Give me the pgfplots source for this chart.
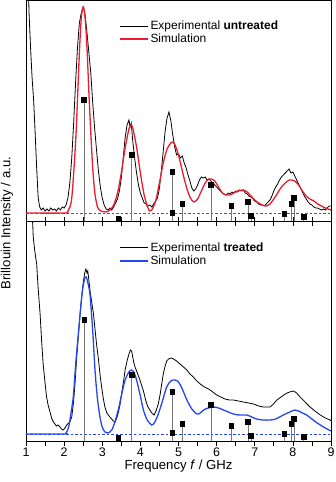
\documentclass[border=0pt]{standalone}
\usepackage{fontspec}
\setmainfont{Liberation Sans}
\usepackage{pgfplots}
\pgfplotsset{compat=1.18}
\definecolor{simred}{RGB}{236,28,46}
\definecolor{simblue}{RGB}{35,70,240}
\definecolor{stemgray}{RGB}{120,120,120}
\begin{document}
\begin{tikzpicture}
\useasboundingbox (-26bp,-260.5bp) rectangle (310bp,221.5bp);
\pgfplotsset{
 every axis/.append style={
  scale only axis, width=305bp, xmin=1, xmax=9,
  ymin=0, ytick=\empty,
  xtick={1,...,9}, minor x tick num=1,
  axis line style={line width=0.8bp},
  every tick/.style={black, line width=0.7bp},
  tick label style={font=\fontsize{12.5}{15}\selectfont},
  label style={font=\fontsize{13.2}{15}\selectfont},
  /pgf/number format/assume math mode=true,
  legend cell align=left,
  legend style={draw=none, fill=none, font=\fontsize{12}{14.4}\selectfont, inner sep=0pt, row sep=-1bp},
  legend image code/.code={\draw[#1] (0bp,0bp) -- (28bp,0bp);},
 }
}
% ---------------- top panel: untreated ----------------
\begin{axis}[at={(0,0)}, anchor=south west, height=221bp, ymax=221,
  xticklabels={}, xtick pos=left, tick align=center,
  major tick length=9bp, minor tick length=9bp,
  legend style={at={(0.305,0.855)}, anchor=west}]
\addplot[simred, line width=0.8bp, dash pattern=on 2.5bp off 2bp, forget plot] coordinates {(1,8.5) (9,8.5)};
\addplot[ycomb, draw=stemgray, line width=0.6bp, mark=square*, mark size=2.3bp,
  mark options={draw=black, fill=black, solid}, forget plot] coordinates {
(2.52,121.5) (3.42,2.5) (3.77,66.5) (4.84,49.5) (4.84,8.5) (5.10,17.5) (5.85,36.5)
(6.39,15.5) (6.82,19.5) (6.90,5.5) (7.78,7.5) (7.96,17.5) (8.03,23.5) (8.28,4.5)};
\addplot[black, line width=0.8bp] coordinates {
(1.04,268.5) (1.08,208.5) (1.12,173.5) (1.16,143.5) (1.2,121.5) (1.24,88.5) (1.28,53.5) (1.32,23.5)
(1.36,14.5) (1.4,11.5) (1.45,13.5) (1.5,10.5) (1.55,12.5) (1.6,10.5) (1.65,13.5) (1.7,11.5)
(1.75,12.5) (1.8,10.5) (1.85,13.5) (1.9,11.5) (1.95,14.5) (2.0,13.5) (2.05,16.5) (2.1,23.5)
(2.15,38.5) (2.2,63.5) (2.25,98.5) (2.3,138.5) (2.35,173.5) (2.4,198.5) (2.45,208.5) (2.5,214.5)
(2.53,211.5) (2.56,203.5) (2.6,188.5) (2.65,168.5) (2.7,148.5) (2.75,118.5) (2.8,93.5) (2.85,71.5)
(2.9,50.5) (2.95,34.5) (3.0,23.5) (3.05,16.5) (3.1,12.5) (3.15,11.5) (3.2,13.5) (3.25,11.5)
(3.3,14.5) (3.35,18.5) (3.4,22.5) (3.45,30.5) (3.5,43.5) (3.55,63.5) (3.6,83.5) (3.65,96.5)
(3.7,101.5) (3.73,94.5) (3.76,98.5) (3.8,80.5) (3.85,63.5) (3.9,48.5) (3.95,36.5) (4.0,28.5)
(4.05,23.5) (4.1,18.5) (4.15,17.5) (4.2,15.5) (4.25,16.5) (4.3,14.5) (4.35,17.5) (4.4,20.5)
(4.45,23.5) (4.5,33.5) (4.55,50.5) (4.6,70.5) (4.65,90.5) (4.7,103.5) (4.75,109.5) (4.8,100.5)
(4.85,86.5) (4.9,74.5) (4.95,66.5) (5.0,67.5) (5.05,63.5) (5.1,65.5) (5.15,58.5) (5.2,53.5)
(5.25,46.5) (5.3,40.5) (5.35,33.5) (5.4,30.5) (5.45,32.5) (5.5,36.5) (5.55,41.5) (5.6,44.5)
(5.65,43.5) (5.7,44.5) (5.75,41.5) (5.8,42.5) (5.85,40.5) (5.9,38.5) (5.95,36.5) (6.0,34.5)
(6.05,32.5) (6.1,30.5) (6.15,28.5) (6.2,27.5) (6.25,26.5) (6.3,28.5) (6.35,27.5) (6.4,29.5)
(6.45,28.5) (6.5,30.5) (6.55,29.5) (6.6,31.5) (6.65,30.5) (6.7,31.5) (6.75,28.5) (6.8,27.5)
(6.85,25.5) (6.9,24.5) (6.95,22.5) (7.0,20.5) (7.05,19.5) (7.1,17.5) (7.15,16.5) (7.2,16.5)
(7.25,15.5) (7.3,17.5) (7.35,19.5) (7.4,21.5) (7.45,25.5) (7.5,30.5) (7.55,34.5) (7.6,37.5)
(7.65,41.5) (7.7,44.5) (7.75,46.5) (7.8,48.5) (7.85,50.5) (7.9,52.5) (7.95,48.5) (8.0,49.5)
(8.05,45.5) (8.1,41.5) (8.15,37.5) (8.2,33.5) (8.25,29.5) (8.3,25.5) (8.35,22.5) (8.4,19.5)
(8.45,17.5) (8.5,16.5) (8.55,14.5) (8.6,13.5) (8.65,13.5) (8.7,12.5) (8.75,11.5) (8.8,12.5)
(8.85,11.5) (8.9,13.5) (8.95,15.5) (9.0,15.5)};
\addlegendentry{Experimental \textbf{untreated}}
\addplot[simred, line width=1.3bp, smooth, tension=0.5] coordinates {
(1.0,8.5) (2.0,8.5) (2.1,10.5) (2.2,23.5) (2.3,78.5) (2.35,121.5) (2.4,168.5) (2.45,203.5)
(2.5,214.5) (2.55,203.5) (2.6,173.5) (2.65,128.5) (2.7,88.5) (2.75,53.5) (2.8,30.5) (2.85,18.5)
(2.9,12.5) (3.0,10) (3.1,9.5) (3.2,11.5) (3.3,16.5) (3.4,28.5) (3.5,48.5) (3.6,73.5) (3.7,92.5)
(3.75,96.5) (3.8,93.5) (3.9,74.5) (4.0,48.5) (4.1,26.5) (4.2,13.5) (4.25,10.5) (4.3,11.5)
(4.4,20.5) (4.5,38.5) (4.6,58.5) (4.7,72.5) (4.8,78.5) (4.85,79.5) (4.9,77.5) (5.0,66.5)
(5.1,50.5) (5.2,35.5) (5.3,24.5) (5.4,19.5) (5.5,22.5) (5.6,30.5) (5.7,38.5) (5.8,42.5)
(5.87,42.5) (5.95,40.5) (6.05,34.5) (6.15,28.5) (6.25,26.5) (6.35,26.5) (6.45,28.5) (6.55,30.5)
(6.7,31.5) (6.8,29.5) (6.9,25.5) (7.0,21.5) (7.1,18.5) (7.2,16.5) (7.3,15.5) (7.4,17.5)
(7.5,22.5) (7.6,28.5) (7.7,34.5) (7.8,38.5) (7.9,41.5) (7.97,41.5) (8.05,40.5) (8.15,36.5)
(8.25,30.5) (8.35,25.5) (8.45,22.5) (8.55,20.5) (8.65,17.5) (8.75,15.5) (8.85,13.5) (9.0,11.5)};
\addlegendentry{Simulation}
\end{axis}
% ---------------- bottom panel: treated ----------------
\begin{axis}[at={(0,0)}, anchor=north west, height=219.5bp, ymax=219.5,
  xtick pos=left, tick align=outside,
  major tick length=4.5bp, minor tick length=4.5bp,
  xticklabel style={yshift=1.5bp},
  xlabel={Frequency \textit{f} / GHz},
  xlabel style={yshift=3bp},
  legend style={at={(0.305,0.85)}, anchor=west}]
\addplot[simblue, line width=0.8bp, dash pattern=on 2.5bp off 2bp, forget plot] coordinates {(1,7) (9,7)};
\addplot[ycomb, draw=stemgray, line width=0.6bp, mark=square*, mark size=2.3bp,
  mark options={draw=black, fill=black, solid}, forget plot] coordinates {
(2.53,121) (3.42,3) (3.77,66) (4.84,49) (4.84,8) (5.10,17) (5.85,36)
(6.39,15) (6.82,19) (6.90,5) (7.78,7) (7.96,17) (8.03,22) (8.28,4)};
\addplot[black, line width=0.8bp] coordinates {
(1.1,260) (1.17,222) (1.19,204) (1.23,190) (1.28,177) (1.32,152) (1.37,127) (1.41,100)
(1.45,77) (1.5,58) (1.54,44) (1.58,36) (1.63,29) (1.68,22) (1.72,19) (1.76,17) (1.8,15)
(1.84,16) (1.89,14) (1.93,12) (1.98,11) (2.02,13) (2.07,16) (2.12,18) (2.16,20) (2.2,24)
(2.25,40) (2.29,60) (2.33,84) (2.38,108) (2.42,128) (2.46,144) (2.5,158) (2.54,168) (2.57,172)
(2.6,168) (2.62,170) (2.64,164) (2.68,150) (2.72,140) (2.77,127) (2.81,112) (2.85,97) (2.9,82)
(2.94,67) (2.98,55) (3.03,42) (3.07,34) (3.12,28) (3.16,26) (3.2,24) (3.25,22) (3.29,20)
(3.34,19) (3.38,23) (3.42,28) (3.47,37) (3.51,48) (3.56,60) (3.6,71) (3.65,80) (3.7,87)
(3.74,91) (3.77,90) (3.8,84) (3.83,78) (3.86,74) (3.9,70) (3.95,65) (3.99,61) (4.03,56)
(4.08,50) (4.12,44) (4.16,38) (4.2,34) (4.25,31) (4.3,28) (4.36,26) (4.41,30) (4.47,37)
(4.52,47) (4.56,57) (4.6,67) (4.65,75) (4.69,80) (4.74,82) (4.8,83) (4.87,82) (4.95,80)
(5.04,77) (5.13,74) (5.22,71) (5.3,67) (5.39,64) (5.48,60) (5.57,57) (5.68,54) (5.79,52)
(5.9,49) (6.0,46) (6.11,44) (6.22,42) (6.33,41) (6.44,41) (6.57,40) (6.7,39) (6.84,38)
(6.97,37) (7.1,35) (7.23,34) (7.32,34) (7.4,34) (7.49,37) (7.58,41) (7.69,44) (7.8,47)
(7.91,49) (8.02,50) (8.1,48) (8.19,44) (8.32,39) (8.45,34) (8.58,30) (8.72,26) (8.85,23)
(8.98,21) (9.0,20)};
\addlegendentry{Experimental \textbf{treated}}
\addplot[simblue, line width=1.3bp, smooth, tension=0.5] coordinates {
(1.0,7) (2.0,7) (2.05,8) (2.12,14) (2.18,28) (2.24,44) (2.3,75) (2.36,102) (2.42,127)
(2.48,150) (2.55,164) (2.6,162) (2.64,155) (2.68,146) (2.75,110) (2.81,71) (2.87,44)
(2.94,24) (3.0,14) (3.07,9) (3.15,8) (3.25,11) (3.33,19) (3.42,31) (3.5,45) (3.6,61)
(3.7,69) (3.77,71) (3.84,68) (3.9,61) (4.0,45) (4.08,31) (4.18,21) (4.3,16) (4.38,19)
(4.47,27) (4.58,40) (4.69,54) (4.8,60) (4.91,61) (5.0,59) (5.1,52) (5.22,41) (5.35,32)
(5.48,27) (5.57,28) (5.66,31) (5.78,33) (5.92,34) (6.05,33) (6.18,31) (6.31,29) (6.44,27)
(6.6,26) (6.79,26) (6.92,24) (7.05,22) (7.2,21) (7.4,21) (7.55,22) (7.75,26) (7.92,29)
(8.05,31) (8.15,30) (8.25,28) (8.36,26) (8.5,22) (8.6,19) (8.72,16) (8.85,13) (9.0,10)};
\addlegendentry{Simulation}
\end{axis}
\node[rotate=90, font=\fontsize{13.2}{15}\selectfont] at (-19bp,-1.5bp) {Brillouin Intensity / a.u.};
\end{tikzpicture}
\end{document}
